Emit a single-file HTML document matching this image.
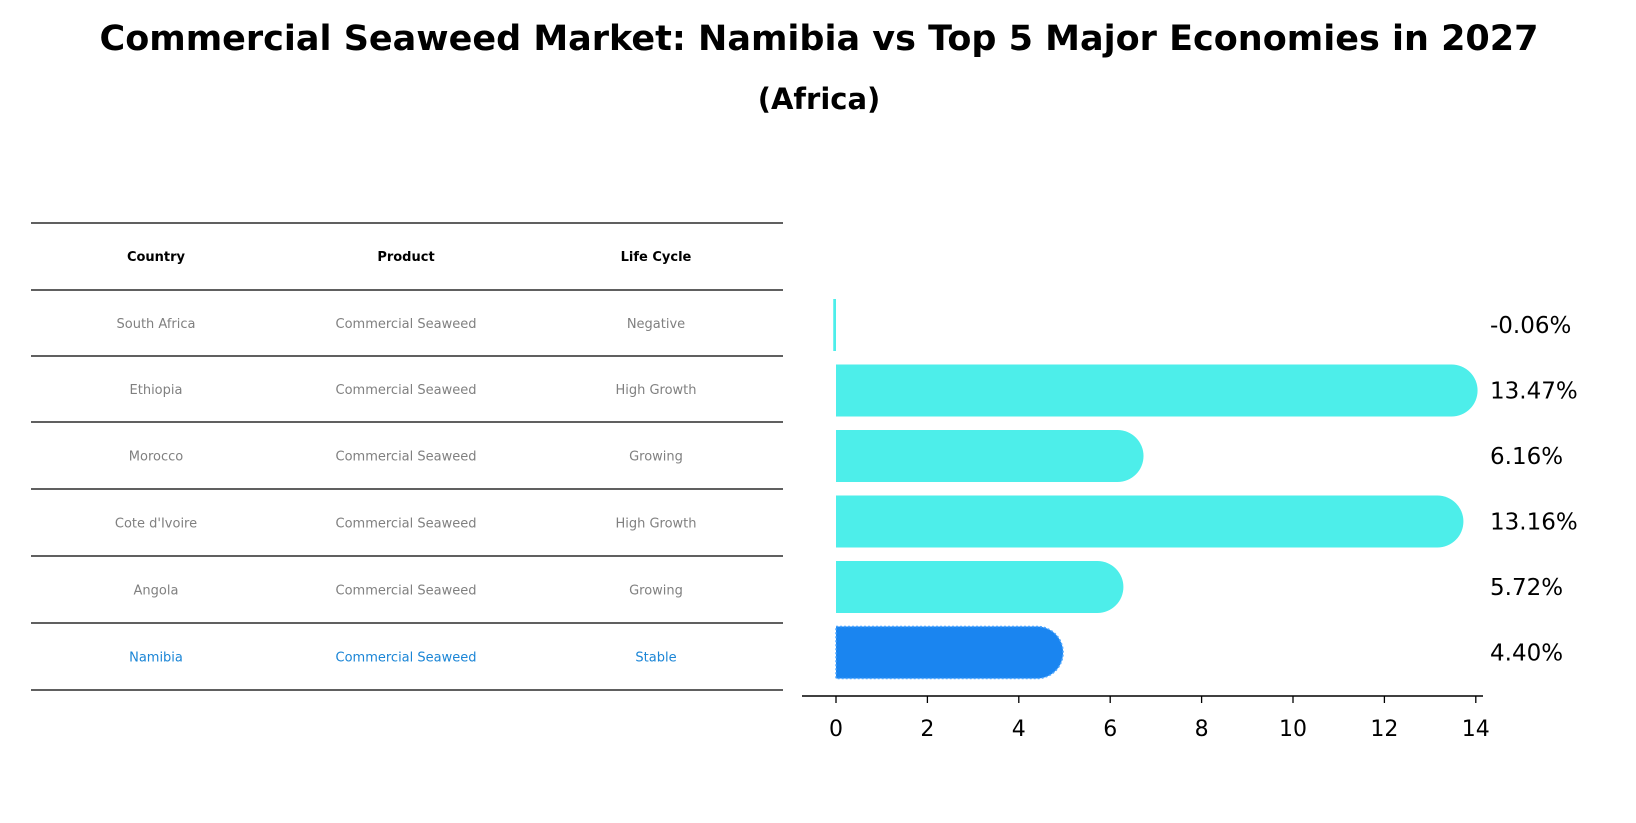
<!DOCTYPE html>
<html><head><meta charset="utf-8"><style>
body{margin:0;background:#fff;font-family:"Liberation Sans","DejaVu Sans",sans-serif}
</style></head><body>
<svg width="1636" height="823" xmlns="http://www.w3.org/2000/svg" style="display:block">
<text x="819" y="50" text-anchor="middle" font-size="35" font-weight="bold" font-family="DejaVu Sans, sans-serif">Commercial Seaweed Market: Namibia vs Top 5 Major Economies in 2027</text>
<text x="819" y="109" text-anchor="middle" font-size="29" font-weight="bold" font-family="DejaVu Sans, sans-serif">(Africa)</text>
<g id="table"></g>
<g id="bars"></g>
</svg>
<script>
const countries=["South Africa","Ethiopia","Morocco","Cote d'Ivoire","Angola","Namibia"];
const products=["Commercial Seaweed","Commercial Seaweed","Commercial Seaweed","Commercial Seaweed","Commercial Seaweed","Commercial Seaweed"];
const lifeCycles=["Negative","High Growth","Growing","High Growth","Growing","Stable"];
const values=[-0.06,13.47,6.16,13.16,5.72,4.40];
const valueLabels=["-0.06%","13.47%","6.16%","13.16%","5.72%","4.40%"];
const ticks=[0,2,4,6,8,10,12,14];
const NS="http://www.w3.org/2000/svg";
function mk(t,a,p){const e=document.createElementNS(NS,t);for(const k in a)e.setAttribute(k,a[k]);p.appendChild(e);return e;}
const tbl=document.getElementById('table');
const lineYs=[223,290,356,422,489,556,623,690];
lineYs.forEach(y=>{const l=mk('line',{x1:31,x2:783,y1:y,y2:y,stroke:'#000','stroke-width':1.2},tbl);

});
const colX=[156,406,656];
["Country","Product","Life Cycle"].forEach((h,i)=>{const t=mk('text',{x:colX[i],y:261,'text-anchor':'middle','font-size':13,'font-weight':'bold','font-family':'DejaVu Sans, sans-serif'},tbl);t.textContent=h;

});
countries.forEach((c,r)=>{const y=(lineYs[r+1]+lineYs[r+2])/2+5;const col=r===countries.length-1?'#1a85d6':'#808080';
[c,products[r],lifeCycles[r]].forEach((v,i)=>{const t=mk('text',{x:colX[i],y:y,'text-anchor':'middle','font-size':13,fill:col,'font-family':'DejaVu Sans, sans-serif'},tbl);t.textContent=v;

});});
const g=document.getElementById('bars');
const x0=836,ux=45.7;const xs=v=>x0+v*ux;
const yc=i=>325+i*65.5;const bh=52;
const ax=mk('line',{x1:802,x2:1483,y1:696,y2:696,stroke:'#000','stroke-width':1.5},g);


ticks.forEach(t=>{const l=mk('line',{x1:xs(t),x2:xs(t),y1:696,y2:703,stroke:'#000','stroke-width':1.3},g);


const tx=mk('text',{x:xs(t),y:736,'text-anchor':'middle','font-size':22,'font-family':'DejaVu Sans, sans-serif'},g);tx.textContent=t;

});
values.forEach((v,i)=>{const last=i===values.length-1;const col=last?'#1a85f0':'#4deeea';const top=yc(i)-bh/2;
let el;
if(Math.abs(v)<0.5){el=mk('rect',{x:Math.min(xs(0),xs(v)),y:top,width:Math.max(2,Math.abs(xs(v)-xs(0))),height:bh,fill:col},g);}
else{const xe=xs(v),r=bh/2;
el=mk('path',{d:`M${xs(0)},${top} H${xe} A${r},${r} 0 0 1 ${xe},${top+bh} H${xs(0)} Z`,fill:col},g);
if(last){el.setAttribute('stroke','#4da6ff');el.setAttribute('stroke-dasharray','2,2');el.setAttribute('stroke-width','1.5');}}


const t=mk('text',{x:1490,y:yc(i)+8,'font-size':23,'font-family':'DejaVu Sans, sans-serif'},g);t.textContent=valueLabels[i];

});
</script>
</body></html>
